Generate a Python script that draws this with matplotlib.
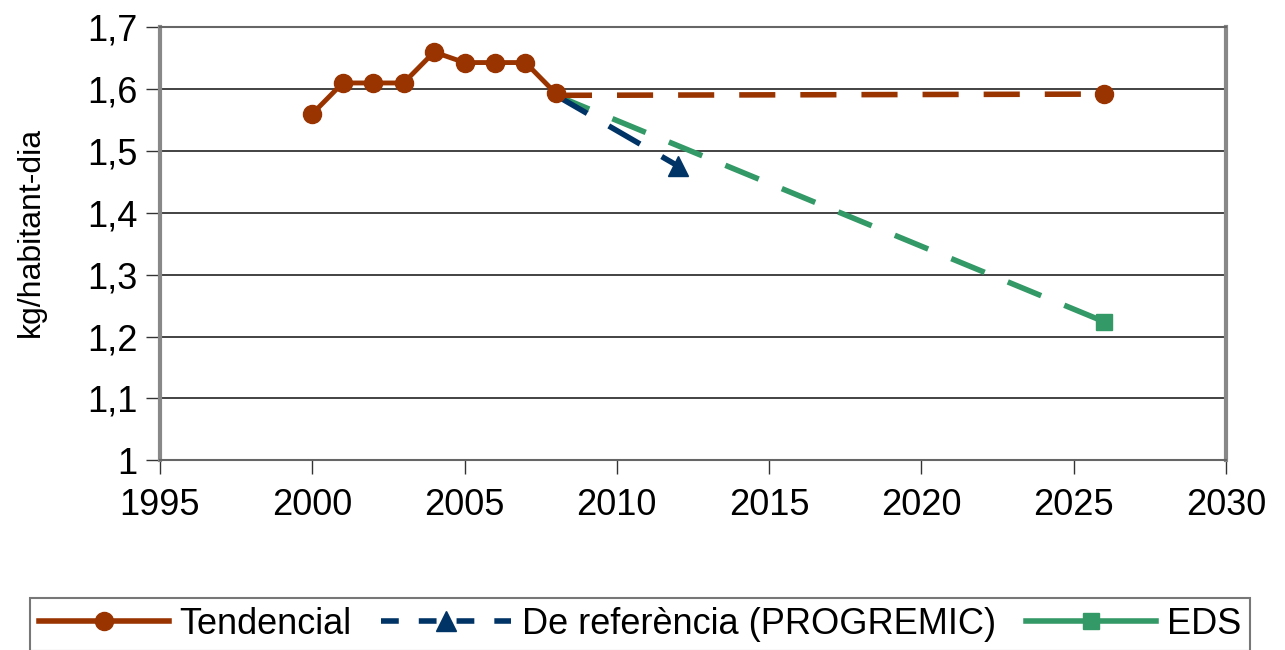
import matplotlib
matplotlib.use("Agg")
import matplotlib.pyplot as plt
from matplotlib.lines import Line2D

plt.rcParams['font.family'] = ['Liberation Sans', 'DejaVu Sans']

# Tendencial (observed + trend)
tend_years = [2000, 2001, 2002, 2003, 2004, 2005, 2006, 2007, 2008]
tend_vals = [1.56, 1.61, 1.61, 1.61, 1.66, 1.643, 1.643, 1.643, 1.593]
tend_proj_years = [2008, 2026]
tend_proj_vals = [1.59, 1.592]

# De referència (PROGREMIC)
ref_years = [2008, 2012]
ref_vals = [1.59, 1.476]

# EDS
eds_years = [2008, 2026]
eds_vals = [1.59, 1.224]

c_tend = '#993300'
c_ref = '#003366'
c_eds = '#339966'
dash = (0, (6.5, 4.5))

fig = plt.figure(figsize=(12.85, 6.5), dpi=100)
ax = fig.add_axes([0.1245, 0.292, 0.8295, 0.666])

ax.plot(eds_years, eds_vals, color=c_eds, lw=4, ls=dash,
        marker='s', markersize=12, markevery=[1], zorder=3)
ax.plot(ref_years, ref_vals, color=c_ref, lw=4, ls=dash,
        marker='^', markersize=14, markevery=[1], zorder=4)
ax.plot(tend_proj_years, tend_proj_vals, color=c_tend, lw=4, ls=dash,
        marker='o', markersize=13, markevery=[1], zorder=4)
ax.plot(tend_years, tend_vals, color=c_tend, lw=3.5, marker='o',
        markersize=13, zorder=5)

ax.set_xlim(1995, 2030)
ax.set_ylim(1, 1.7)
ax.set_xticks(range(1995, 2031, 5))
ax.set_yticks([1 + 0.1 * i for i in range(8)])
ax.set_yticklabels(['1', '1,1', '1,2', '1,3', '1,4', '1,5', '1,6', '1,7'])
ax.tick_params(axis='both', labelsize=26, direction='out', length=10,
               width=1, color='#333333')
ax.tick_params(axis='x', pad=10)
ax.tick_params(axis='y', pad=6)
ax.grid(axis='y', color='#222222', lw=1.2)
ax.set_axisbelow(True)
for side in ['left', 'right']:
    ax.spines[side].set_color('#888888')
    ax.spines[side].set_linewidth(3)
for side in ['top', 'bottom']:
    ax.spines[side].set_color('#666666')
    ax.spines[side].set_linewidth(1.5)

fig.text(0.024, 0.643, 'kg/habitant-dia', rotation=90, fontsize=23,
         ha='center', va='center')

handles = [
    Line2D([], [], color=c_tend, lw=4, marker='o', markersize=13),
    Line2D([], [], color=c_ref, lw=4, ls=(0, (3.2, 3.6)), marker='^', markersize=14),
    Line2D([], [], color=c_eds, lw=4, marker='s', markersize=12),
]
labels = ['Tendencial', 'De referència (PROGREMIC)', 'EDS']
leg = fig.legend(handles, labels, loc='upper left', ncol=3, mode='expand',
                 bbox_to_anchor=(0.023, 0.0, 0.95, 0.08),
                 bbox_transform=fig.transFigure, borderaxespad=0,
                 fontsize=26, frameon=True, fancybox=False, handlelength=3.6,
                 handletextpad=0.3, columnspacing=0.8, borderpad=0.25)
leg.get_frame().set_edgecolor('#555555')
leg.get_frame().set_linewidth(1.5)

fig.savefig('out.png', dpi=100)
